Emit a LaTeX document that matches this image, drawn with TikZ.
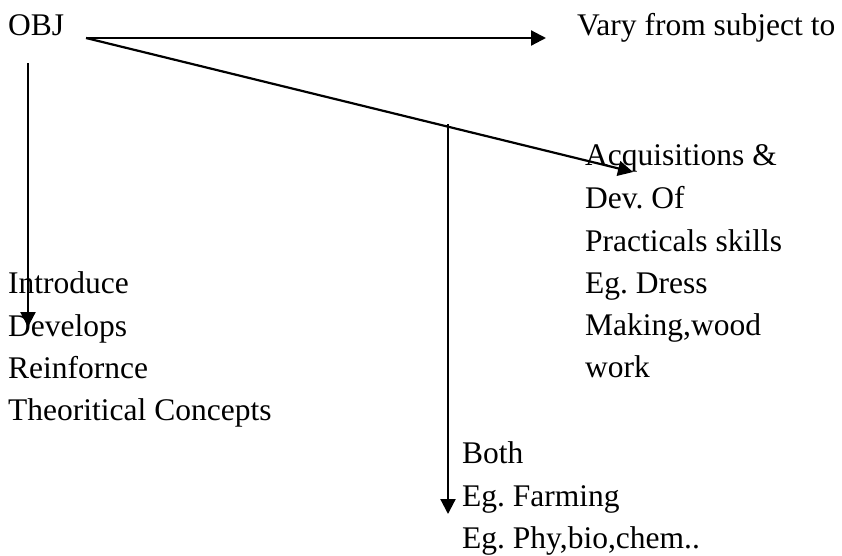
\documentclass[tikz,border=0pt]{standalone}
\usepackage{fontspec}
\setmainfont{Liberation Serif}
\frenchspacing
\usetikzlibrary{arrows.meta}
\tikzset{
  txt/.style={anchor=base west, inner sep=0pt, font=\fontsize{31.5}{42.5}\selectfont},
  link/.style={line width=2.2pt, -{Triangle[length=15pt, width=15pt]}}
}
\begin{document}
\begin{tikzpicture}[x=1pt, y=-1pt]
\useasboundingbox (0,0) rectangle (842,555);

% heading
\node[txt] (obj) at (8,35) {OBJ};
\node[txt] (vary) at (577,35) {Vary from subject to};

% practical skills branch
\node[txt] (p1) at (585,165) {Acquisitions \&};
\node[txt] (p2) at (585,208) {Dev. Of};
\node[txt] (p3) at (585,251) {Practicals skills};
\node[txt] (p4) at (585,293) {Eg. Dress};
\node[txt] (p5) at (585,335) {Making,wood};
\node[txt] (p6) at (585,377) {work};

% theory branch
\node[txt] (t1) at (8,293) {Introduce};
\node[txt] (t2) at (8,336) {Develops};
\node[txt] (t3) at (8,378) {Reinfornce};
\node[txt] (t4) at (8,420) {Theoritical Concepts};

% both branch
\node[txt] (b1) at (462,463) {Both};
\node[txt] (b2) at (462,506) {Eg. Farming};
\node[txt] (b3) at (462,548) {Eg. Phy,bio,chem..};

% connector end points
\coordinate (root) at (86,38);
\coordinate (varyend) at (546,38);
\coordinate (skillend) at (633,172);
\coordinate (leftstart) at (28,63);
\coordinate (leftend) at (28,327);
\coordinate (midstart) at (448,124);
\coordinate (midend) at (448,514);

\draw[link] (root) -- (varyend);
\draw[link] (root) -- (skillend);
\draw[link] (leftstart) -- (leftend);
\draw[link] (midstart) -- (midend);
\end{tikzpicture}
\end{document}
